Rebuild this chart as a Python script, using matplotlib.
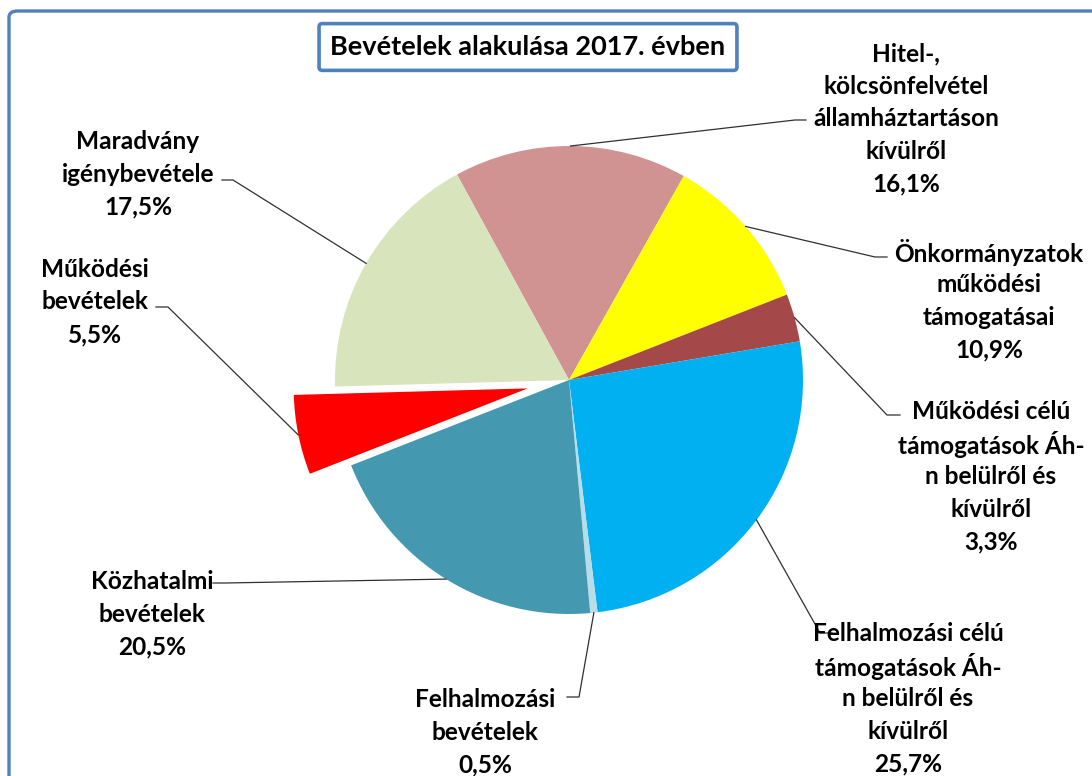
import matplotlib
matplotlib.use("Agg")
import numpy as np
import matplotlib.pyplot as plt
from matplotlib.patches import FancyBboxPatch

# data (clockwise order from the top)
categories = [
    "Hitel-,\nkölcsönfelvétel\nállamháztartáson\nkívülről",
    "Önkormányzatok\nműködési\ntámogatásai",
    "Működési célú\ntámogatások Áh-\nn belülről és\nkívülről",
    "Felhalmozási célú\ntámogatások Áh-\nn belülről és\nkívülről",
    "Felhalmozási\nbevételek",
    "Közhatalmi\nbevételek",
    "Működési\nbevételek",
    "Maradvány\nigénybevétele",
]
shares = [16.1, 10.9, 3.3, 25.7, 0.5, 20.5, 5.5, 17.5]
colors = ["#D09392", "#FFFF00", "#A5484A", "#00B0F0",
          "#B7DEE8", "#4499B0", "#FF0000", "#D8E4BC"]
explode = [0, 0, 0, 0, 0, 0, 0.18, 0]

W, H = 1092, 776
CX, CY, R = 569, 380, 234   # pie centre / radius in pixels
LINE_H = 32.6               # label line pitch in pixels


def px(x, y):
    # pixel position (from top-left) -> data coords
    return (x - CX) / R, (CY - y) / R


# label centre, elbow of leader line, end of short horizontal tick (pixels)
label_pos = [(906, 117), (989, 299), (991, 475), (908, 697),
             (485, 730), (152, 612), (95, 300), (138, 172)]
elbows = [((795, 120), (806, 120)), ((875, 257), (887, 257)),
          ((887, 415), (900, 415)), ((820, 633), (832, 633)),
          ((579, 697), (567, 697)), ((225, 583), (213, 583)),
          ((168, 307), (156, 307)), ((233, 180), (222, 180))]

plt.rcParams['font.family'] = ['Lato', 'DejaVu Sans']

fig = plt.figure(figsize=(W / 100, H / 100), dpi=100)
ax = fig.add_axes([0, 0, 1, 1])

wedges, _ = ax.pie(shares, colors=colors, explode=explode, radius=1,
                   startangle=118.6, counterclock=False,
                   wedgeprops=dict(linewidth=0))

ax.set_xlim(px(0, 0)[0], px(W, 0)[0])
ax.set_ylim(px(0, H)[1], px(0, 0)[1])
ax.set_aspect('equal', adjustable='box')
ax.axis('off')

for w, cat, val, pos, (e1, e2) in zip(wedges, categories, shares, label_pos, elbows):
    ang = np.deg2rad((w.theta1 + w.theta2) / 2)
    cx, cy = w.center
    sx, sy = cx + w.r * np.cos(ang), cy + w.r * np.sin(ang)
    ex1, ey1 = px(*e1)
    ex2, ey2 = px(*e2)
    ax.plot([sx, ex1, ex2], [sy, ey1, ey2], color="#303030", lw=0.9)
    lines = cat.split("\n") + [f"{val:.1f}%".replace(".", ",")]
    n = len(lines)
    for i, line in enumerate(lines):
        tx, ty = px(pos[0], pos[1] + (i - (n - 1) / 2) * LINE_H)
        ax.text(tx, ty, line, ha='center', va='center_baseline',
                fontsize=17.6, fontweight='bold')

# title in a framed box
fig.text(528 / W, 1 - 47 / H, "Bevételek alakulása 2017. évben",
         ha='center', va='center', fontsize=19.5, fontweight='bold',
         bbox=dict(boxstyle='round,pad=0.42,rounding_size=0.12', fc='white',
                   ec='#4F81BD', lw=2.6))

# chart area border (only top and left edges visible in the crop)
border = FancyBboxPatch((9 / W, -0.1), 1.2, 1 - 11 / H + 0.1,
                        boxstyle='round,pad=0,rounding_size=0.008',
                        transform=fig.transFigure, fc='none',
                        ec='#4F81BD', lw=2.4, clip_on=False)
fig.patches.append(border)

fig.savefig("out.png", dpi=100)
